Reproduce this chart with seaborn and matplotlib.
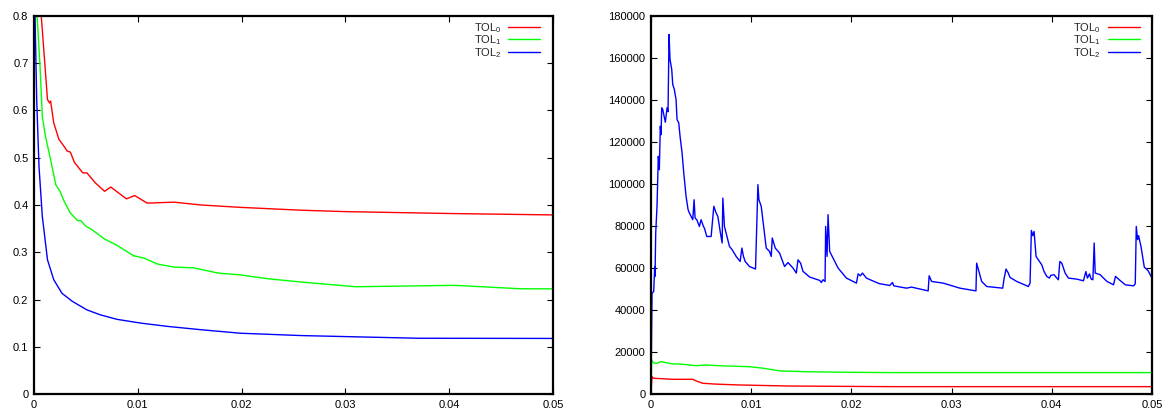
import numpy as np
import pandas as pd
import matplotlib
matplotlib.use("Agg")
import matplotlib.pyplot as plt
import seaborn as sns

# lewy panel
tol0_x_l = [0.0003, 0.0007, 0.0013, 0.0015, 0.0016, 0.0019, 0.0024, 0.0029, 0.0032, 0.0035,
            0.0039, 0.0047, 0.0051, 0.0059, 0.0068, 0.0074, 0.0089, 0.0097, 0.0109, 0.0135,
            0.0161, 0.0199, 0.0257, 0.030, 0.040, 0.050]
tol0_y_l = [1.0, 0.80, 0.623, 0.616, 0.62, 0.574, 0.539, 0.524, 0.514, 0.512,
            0.49, 0.468, 0.468, 0.447, 0.429, 0.438, 0.413, 0.42, 0.404, 0.406,
            0.40, 0.395, 0.389, 0.386, 0.382, 0.379]
tol1_x_l = [0.0001, 0.0003, 0.00058, 0.0008, 0.0011, 0.0016, 0.0021, 0.0025, 0.0029, 0.0035,
            0.0042, 0.0045, 0.005, 0.0055, 0.0068, 0.008, 0.0096, 0.0106, 0.0119, 0.0135,
            0.0154, 0.0177, 0.0199, 0.0225, 0.0257, 0.031, 0.0405, 0.047, 0.050]
tol1_y_l = [1.0, 0.80, 0.694, 0.588, 0.546, 0.496, 0.443, 0.429, 0.408, 0.383,
            0.367, 0.367, 0.355, 0.349, 0.328, 0.3145, 0.2926, 0.2876, 0.275, 0.2686,
            0.267, 0.256, 0.252, 0.244, 0.237, 0.227, 0.230, 0.2226, 0.2226]
tol2_x_l = [0.0, 0.0001, 0.00026, 0.00048, 0.0008, 0.0013, 0.0019, 0.0027, 0.0037, 0.0051,
            0.0064, 0.008, 0.0103, 0.0129, 0.0161, 0.0199, 0.0257, 0.030, 0.037, 0.050]
tol2_y_l = [1.0, 0.80, 0.623, 0.482, 0.376, 0.284, 0.242, 0.213, 0.196, 0.178,
            0.1675, 0.158, 0.15, 0.143, 0.136, 0.1286, 0.1237, 0.1215, 0.118, 0.1176]

# prawy panel
tol0_x_r = [0.0, 0.0001, 0.00023, 0.00217, 0.00417, 0.00467, 0.00517, 0.0065, 0.0088,
            0.01383, 0.02383, 0.050]
tol0_y_r = [0, 8300, 7500, 7000, 7000, 5900, 5100, 4700, 4300, 3800, 3500, 3500]
tol1_x_r = [0.0, 0.00007, 0.00023, 0.0005, 0.001, 0.0015, 0.00217, 0.00283, 0.0045, 0.0055,
            0.00717, 0.00983, 0.01117, 0.01283, 0.0155, 0.0205, 0.02383, 0.050]
tol1_y_r = [0, 16200, 14900, 14500, 15400, 14900, 14300, 14300, 13500, 13800,
            13400, 13000, 12300, 11000, 10600, 10300, 10200, 10200]
tol2_x_r = [0.0, 0.0001, 0.00027, 0.00037, 0.0004, 0.00047, 0.0006, 0.00073, 0.00083, 0.00093,
            0.001, 0.00107, 0.00117, 0.00127, 0.00143, 0.0016, 0.0017, 0.0018, 0.0019, 0.00207,
            0.00217, 0.00233, 0.0025, 0.0026, 0.00277, 0.0029, 0.0031, 0.00327, 0.0035, 0.0037,
            0.00383, 0.00417, 0.0043, 0.0044, 0.00457, 0.00483, 0.005, 0.00523, 0.00533, 0.00557,
            0.006, 0.00627, 0.0065, 0.00667, 0.00693, 0.0071, 0.00717, 0.00733, 0.00783, 0.0081,
            0.0085, 0.0089, 0.00907, 0.00923, 0.0094, 0.00983, 0.01043, 0.01067, 0.01077, 0.011,
            0.0115, 0.01183, 0.012, 0.0121, 0.0124, 0.01283, 0.01333, 0.01367, 0.01417, 0.0145,
            0.01467, 0.01493, 0.01517, 0.01583, 0.01683, 0.017, 0.01717, 0.01737, 0.01743, 0.01757,
            0.01767, 0.01783, 0.01817, 0.01867, 0.0195, 0.0205, 0.02067, 0.0209, 0.0211, 0.0215,
            0.0225, 0.02283, 0.02383, 0.0241, 0.02423, 0.0255, 0.026, 0.02766, 0.02776, 0.028,
            0.02916, 0.03083, 0.03243, 0.0325, 0.033, 0.0335, 0.0351, 0.03523, 0.03543, 0.03566,
            0.03583, 0.0365, 0.03766, 0.03783, 0.03796, 0.0381, 0.03823, 0.03843, 0.039, 0.03923,
            0.0395, 0.03976, 0.0399, 0.04023, 0.0405, 0.04066, 0.0408, 0.041, 0.04133, 0.04166,
            0.0425, 0.04316, 0.0434, 0.04356, 0.04376, 0.04393, 0.0441, 0.04423, 0.04433, 0.04483,
            0.0455, 0.04616, 0.04636, 0.04666, 0.04733, 0.04816, 0.04833, 0.04843, 0.04856, 0.04866,
            0.0489, 0.04923, 0.0496, 0.050]
tol2_y_r = [0, 48000, 48800, 60700, 56000, 76600, 89400, 113200, 106800, 127500,
            123500, 136300, 135500, 133100, 129400, 136300, 134400, 171200, 159300, 154500,
            147400, 145000, 140200, 130700, 129100, 122700, 114800, 105300, 94100, 87800,
            86200, 83000, 92500, 83800, 83000, 79800, 83000, 79800, 79000, 75000,
            75000, 89400, 86200, 84600, 76600, 71900, 93300, 79800, 70300, 68700,
            65500, 63100, 69500, 65500, 63100, 60700, 59500, 99700, 92500, 89400,
            69500, 67900, 65500, 74300, 69500, 67100, 60700, 62600, 60000, 57600,
            63900, 62300, 58400, 55700, 54100, 53100, 54400, 53600, 79800, 65500,
            85400, 67900, 64700, 60000, 55200, 52800, 57200, 56300, 57600, 55200,
            53100, 52500, 51700, 53100, 51500, 50400, 50900, 49100, 56300, 53600,
            52800, 50400, 49100, 62300, 53600, 51200, 50400, 54700, 59500, 57600,
            55500, 53600, 51200, 52800, 77900, 75400, 77400, 65500, 61500, 58300,
            56000, 55200, 56500, 56800, 55200, 54400, 63100, 62300, 57600, 55200,
            54700, 53900, 58300, 55200, 57200, 54700, 54400, 71900, 57600, 56800,
            53600, 52000, 56000, 54700, 52000, 51500, 52500, 79800, 73500, 75400,
            70300, 60400, 58800, 55200]

nazwy = ["TOL$_0$", "TOL$_1$", "TOL$_2$"]
kolory = ["#ff0000", "#00ff00", "#0000ff"]


def ramka(serie):
    czesci = []
    for nazwa, (x, y) in zip(nazwy, serie):
        czesci.append(pd.DataFrame({"t": x, "v": y, "seria": nazwa}))
    return pd.concat(czesci, ignore_index=True)


sns.set_style("ticks", {"xtick.direction": "in", "ytick.direction": "in",
                        "axes.edgecolor": "black"})
plt.rcParams["font.family"] = ["Liberation Sans", "DejaVu Sans"]
plt.rcParams["mathtext.fontset"] = "custom"
plt.rcParams["mathtext.rm"] = "Liberation Sans"
plt.rcParams["mathtext.it"] = "Liberation Sans:italic"
plt.rcParams["font.size"] = 8

fig = plt.figure(figsize=(11.69, 4.13), dpi=100)
ax1 = fig.add_axes([34 / 1169, 19 / 413, 519 / 1169, 378 / 413])
ax2 = fig.add_axes([651 / 1169, 19 / 413, 501 / 1169, 378 / 413])

df_l = ramka([(tol0_x_l, tol0_y_l), (tol1_x_l, tol1_y_l), (tol2_x_l, tol2_y_l)])
df_r = ramka([(tol0_x_r, tol0_y_r), (tol1_x_r, tol1_y_r), (tol2_x_r, tol2_y_r)])

for ax, df, ymax, krok in [(ax1, df_l, 0.8, 0.1), (ax2, df_r, 180000, 20000)]:
    sns.lineplot(data=df, x="t", y="v", hue="seria", palette=kolory, sort=False,
                 estimator=None, linewidth=1.0, ax=ax)
    ax.set_xlim(0, 0.05)
    ax.set_ylim(0, ymax)
    ax.set_xticks(np.arange(0, 0.0501, 0.01))
    ax.set_xticklabels(["0", "0.01", "0.02", "0.03", "0.04", "0.05"])
    yt = np.arange(0, ymax + krok / 2, krok)
    ax.set_yticks(yt)
    if ymax < 1:
        ax.set_yticklabels(["0"] + [f"{v:.1f}" for v in yt[1:]])
    else:
        ax.set_yticklabels([f"{int(v)}" for v in yt])
    ax.set_xlabel("")
    ax.set_ylabel("")
    ax.tick_params(direction="in", length=4, width=0.8, top=True, right=True,
                   labelsize=8, pad=4, colors="black")
    for s in ax.spines.values():
        s.set_linewidth(1.6)
        s.set_color("black")
    sns.move_legend(ax, "upper right", bbox_to_anchor=(0.978, 0.99), frameon=False,
                    markerfirst=False, title=None, fontsize=8, labelspacing=-0.12,
                    handlelength=2.9, handletextpad=0.6, borderaxespad=0.0, borderpad=0.1)

plt.savefig("out.png", dpi=100)
